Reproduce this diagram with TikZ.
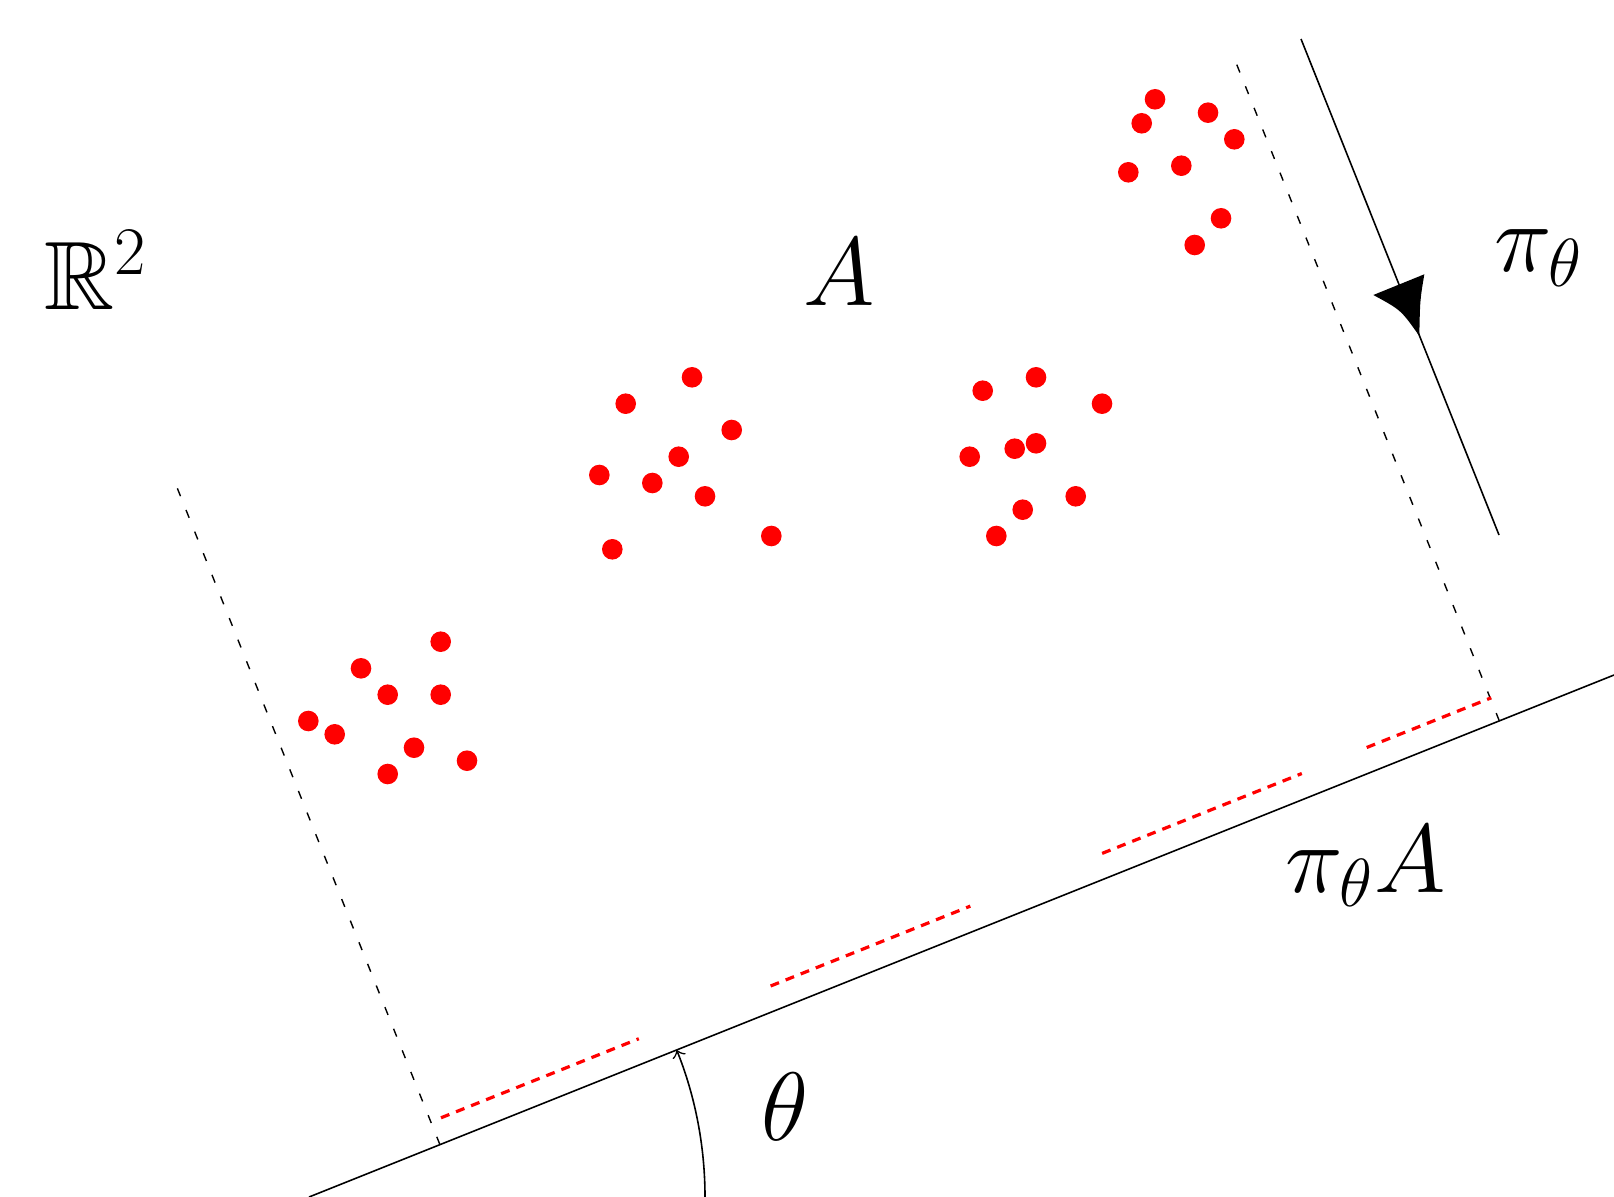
\documentclass[tikz,border=0pt]{standalone}
\usepackage{amssymb}
\usepackage{fix-cm}
\begin{document}
\begin{tikzpicture}[x=0.25pt,y=-0.25pt,
  dot/.style={fill=red},
  guide/.style={line width=0.35pt,dash pattern=on 2.1pt off 3.72pt},
  proj/.style={red,line width=0.8pt,dash pattern=on 2.25pt off 1.8pt},
  axisline/.style={line width=0.4pt},
  lbl/.style={anchor=base west,inner sep=0pt,font=\fontsize{24.3}{29}\selectfont}]
\useasboundingbox (0,0) rectangle (1614,1197);
% main projection line
\coordinate (L0) at (309,1197);
\coordinate (L1) at (1614,675);
\draw[axisline] (L0) -- (L1);
% angle arc
\draw[line width=0.4pt,->] (705,1197) arc[start angle=0,end angle=-21.8,radius=396];
% dashed guides
\coordinate (GLb) at (439.9,1144.6);
\coordinate (GLt) at (177.3,488.2);
\coordinate (GRb) at (1499.3,720.9);
\coordinate (GRt) at (1236.7,64.5);
\draw[guide] (GLb) -- (GLt);
\draw[guide] (GRb) -- (GRt);
% red projections
\draw[proj] (441.0,1117.8) -- (638.8,1038.7);
\draw[proj] (770.6,986.0) -- (970.3,906.1);
\draw[proj] (1102.1,853.4) -- (1301.8,773.5);
\draw[proj] (1366.7,747.5) -- (1491.2,697.8);
% projection direction line with arrowhead
\coordinate (Pa) at (1301,39);
\coordinate (Pb) at (1499,535);
\draw[line width=0.4pt] (Pa) -- (Pb);
\fill (1419.3,336) .. controls (1401,310) .. (1373.3,295) -- (1424.3,274.3) .. controls (1420,300) .. cycle;
% points
\foreach \p in {(440.7,641.7),(361,668.3),(387.7,694.7),(440.7,694.7),(308.3,721),(334.7,734.3),(414,747.7),(387.7,774),(467,760.7),
  (692,377.3),(625.7,403.7),(731.7,430),(678.7,456.7),(599.3,475),(652.3,483),(705,496.3),(771.3,536),(612.3,549.3),
  (1036,377.3),(982.7,390.7),(1102,403.7),(1036,443.3),(1014.7,448.7),(969.7,456.7),(1075.7,496.3),(1022.7,509.7),(996.3,536),
  (1155,99.3),(1141.7,123.3),(1208,112.7),(1234.3,139.3),(1128.3,172.3),(1181.3,165.7),(1221,218.3),(1194.7,245)}
  \fill[dot] \p circle[radius=10.3];
% labels
\node[lbl] (R2) at (44,310) {$\mathbb{R}^2$};
\node[lbl] (A) at (803,306) {$A$};
\node[lbl] (pi) at (1494,272) {$\pi_\theta$};
\node[lbl] (piA) at (1285,892) {$\pi_\theta A$};
\node[lbl] (th) at (761,1140) {$\theta$};
\end{tikzpicture}
\end{document}
